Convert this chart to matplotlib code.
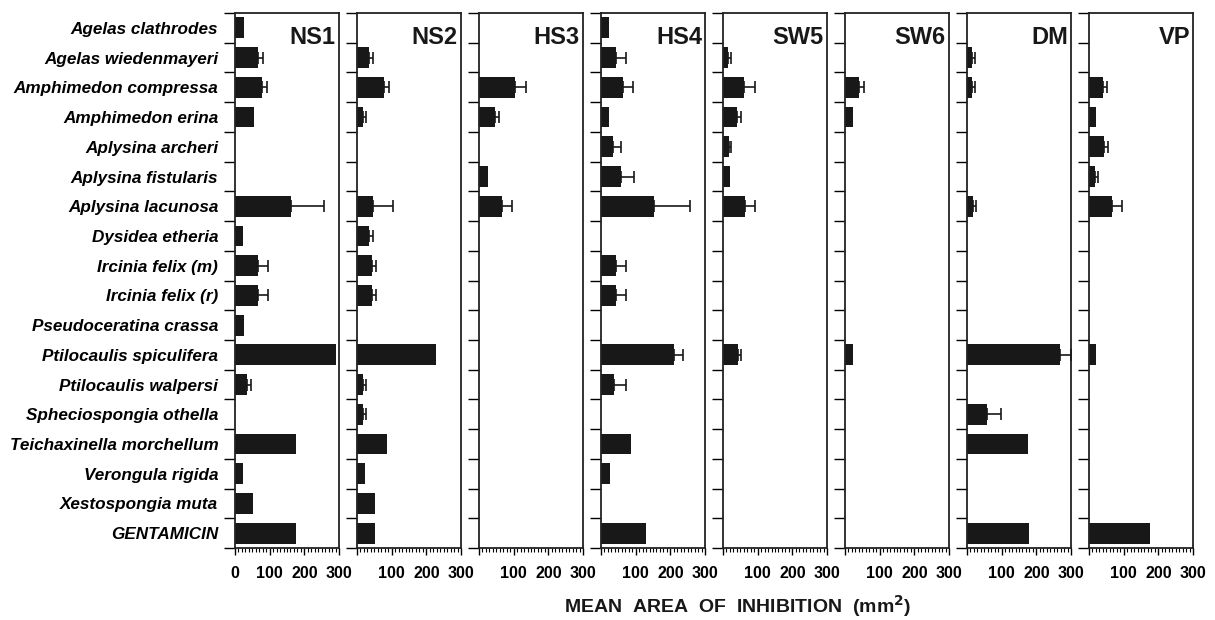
import matplotlib
matplotlib.use('Agg')
from matplotlib import pyplot as plt
from matplotlib.ticker import MultipleLocator, FixedLocator
import numpy as np

plt.rcParams['font.family'] = ['Liberation Sans', 'DejaVu Sans']

species = ['Agelas clathrodes', 'Agelas wiedenmayeri', 'Amphimedon compressa',
           'Amphimedon erina', 'Aplysina archeri', 'Aplysina fistularis',
           'Aplysina lacunosa', 'Dysidea etheria', 'Ircinia felix (m)',
           'Ircinia felix (r)', 'Pseudoceratina crassa', 'Ptilocaulis spiculifera',
           'Ptilocaulis walpersi', 'Spheciospongia othella', 'Teichaxinella morchellum',
           'Verongula rigida', 'Xestospongia muta', 'GENTAMICIN']

sites = ['NS1', 'NS2', 'HS3', 'HS4', 'SW5', 'SW6', 'DM', 'VP']

# mean area of inhibition (mm2) and + error, one value per species
ns1_mean = [26, 66, 78, 55, 0, 0, 163, 24, 67, 66, 25, 292, 34, 0, 176, 23, 52, 175]
ns1_err = [0, 16, 15, 0, 0, 0, 93, 0, 28, 29, 0, 0, 11, 0, 0, 0, 0, 0]
ns2_mean = [0, 36, 79, 18, 0, 0, 45, 36, 43, 43, 0, 229, 16, 16, 87, 24, 53, 53]
ns2_err = [0, 9, 12, 8, 0, 0, 60, 9, 13, 11, 0, 0, 10, 10, 0, 0, 0, 0]
hs3_mean = [0, 0, 105, 45, 0, 25, 66, 0, 0, 0, 0, 0, 0, 0, 0, 0, 0, 0]
hs3_err = [0, 0, 32, 13, 0, 0, 30, 0, 0, 0, 0, 0, 0, 0, 0, 0, 0, 0]
hs4_mean = [22, 43, 64, 22, 35, 57, 152, 0, 43, 44, 0, 212, 38, 0, 87, 25, 0, 130]
hs4_err = [0, 29, 28, 0, 22, 38, 105, 0, 30, 29, 0, 24, 34, 0, 0, 0, 0, 0]
sw5_mean = [0, 15, 62, 40, 16, 21, 64, 0, 0, 0, 0, 43, 0, 0, 0, 0, 0, 0]
sw5_err = [0, 9, 30, 11, 8, 0, 28, 0, 0, 0, 0, 10, 0, 0, 0, 0, 0, 0]
sw6_mean = [0, 0, 41, 24, 0, 0, 0, 0, 0, 0, 0, 23, 0, 0, 0, 0, 0, 0]
sw6_err = [0, 0, 14, 0, 0, 0, 0, 0, 0, 0, 0, 0, 0, 0, 0, 0, 0, 0]
dm_mean = [0, 15, 14, 0, 0, 0, 17, 0, 0, 0, 0, 269, 0, 59, 177, 0, 0, 179]
dm_err = [0, 7, 8, 0, 0, 0, 9, 0, 0, 0, 0, 31, 0, 38, 0, 0, 0, 0]
vp_mean = [0, 0, 41, 21, 42, 16, 66, 0, 0, 0, 0, 21, 0, 0, 0, 0, 0, 177]
vp_err = [0, 0, 12, 0, 13, 10, 30, 0, 0, 0, 0, 0, 0, 0, 0, 0, 0, 0]

means = [ns1_mean, ns2_mean, hs3_mean, hs4_mean, sw5_mean, sw6_mean, dm_mean, vp_mean]
errs = [ns1_err, ns2_err, hs3_err, hs4_err, sw5_err, sw6_err, dm_err, vp_err]

ink = '#181818'
y = np.arange(len(species))

fig, axes = plt.subplots(1, 8, sharey=True, figsize=(12.15, 6.2), dpi=100)
fig.subplots_adjust(left=0.1934, right=0.9819, top=0.979, bottom=0.116, wspace=0.173)

for i, ax in enumerate(axes):
    m = np.array(means[i], dtype=float)
    e = np.array(errs[i], dtype=float)
    ax.barh(y, m, height=0.7, color=ink, zorder=2)
    has = e > 0
    if has.any():
        ax.errorbar(m[has], y[has], xerr=[np.zeros(has.sum()), e[has]], fmt='none',
                    ecolor=ink, elinewidth=1.2, capsize=4, capthick=1.2, zorder=3)

    ax.set_xlim(0, 300)
    ax.set_ylim(len(species) - 0.5, -0.5)
    ax.set_xticks([0, 100, 200, 300])
    ax.xaxis.set_minor_locator(MultipleLocator(10))
    if i == 0:
        ax.set_xticklabels(['0', '100', '200', '300'])
    else:
        ax.set_xticklabels(['', '100', '200', '300'])
    ax.tick_params(axis='x', which='major', length=5, width=1, labelsize=11.5, pad=8)
    ax.tick_params(axis='x', which='minor', length=3, width=0.8)
    for lbl in ax.get_xticklabels():
        lbl.set_fontweight('bold')

    ax.yaxis.set_major_locator(FixedLocator(y))
    ax.yaxis.set_minor_locator(FixedLocator(np.arange(len(species) + 1) - 0.5))
    ax.tick_params(axis='y', which='major', length=0, pad=12)
    ax.tick_params(axis='y', which='minor', length=8, width=1)

    for sp in ax.spines.values():
        sp.set_linewidth(1.3)
        sp.set_color('#222222')

    ax.text(0.97, 0.975, sites[i], transform=ax.transAxes, ha='right', va='top',
            fontsize=17, fontweight='bold', color=ink)

axes[0].set_yticklabels(species, fontsize=12.3, fontstyle='italic', fontweight='bold')

fig.text(0.607, 0.012, 'MEAN  AREA  OF  INHIBITION  (mm$^\\mathbf{2}$)',
         ha='center', va='baseline', fontsize=14, fontweight='bold', color=ink)

fig.savefig('out.png', dpi=100)
